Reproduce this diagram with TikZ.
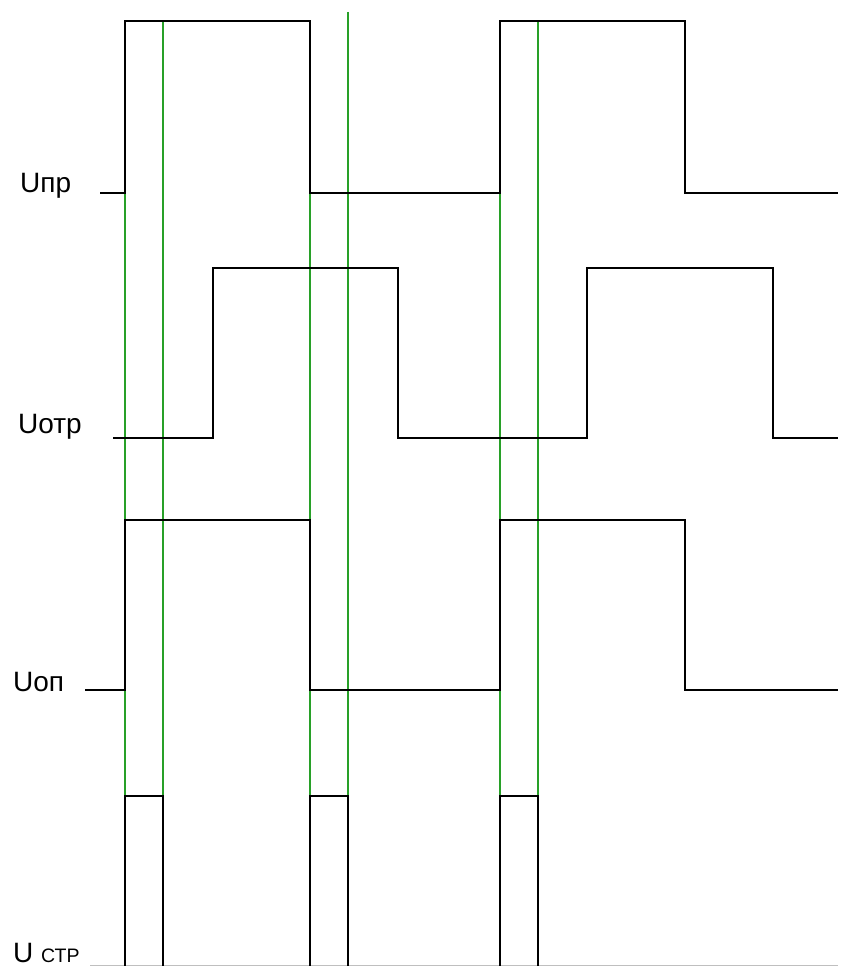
\documentclass[tikz,border=0pt]{standalone}
\usepackage{fontspec}
\setmainfont{Liberation Sans}
\definecolor{gline}{RGB}{40,160,40}
\begin{document}
\begin{tikzpicture}[x=1pt,y=-1pt,
  wave/.style={draw=black,line width=2.4pt,line join=miter},
  marker/.style={draw=gline,line width=2.2pt},
  lbl/.style={anchor=base west,inner sep=0pt,font=\fontsize{28}{28}\selectfont}]
\useasboundingbox[fill=white] (0,0) rectangle (858,966);
% green time markers
\draw[marker] (125,193) -- (125,796);
\draw[marker] (163,21) -- (163,796);
\draw[marker] (310,193) -- (310,796);
\draw[marker] (348,12) -- (348,796);
\draw[marker] (500,193) -- (500,796);
\draw[marker] (538,21) -- (538,796);
% faint bottom baseline of U стр
\draw[black!25,line width=1pt] (90,965.5) -- (838,965.5);
% Uпр
\draw[wave] (100,193) -- (125,193) -- (125,21) -- (310,21) -- (310,193) -- (500,193) -- (500,21) -- (685,21) -- (685,193) -- (838,193);
% Uотр
\draw[wave] (113,438) -- (213,438) -- (213,268) -- (398,268) -- (398,438) -- (587,438) -- (587,268) -- (773,268) -- (773,438) -- (838,438);
% Uоп
\draw[wave] (85,690) -- (125,690) -- (125,520) -- (310,520) -- (310,690) -- (500,690) -- (500,520) -- (685,520) -- (685,690) -- (838,690);
% U стр pulses
\draw[wave] (125,966) -- (125,796) -- (163,796) -- (163,966);
\draw[wave] (310,966) -- (310,796) -- (348,796) -- (348,966);
\draw[wave] (500,966) -- (500,796) -- (538,796) -- (538,966);
% labels
\node[lbl] (upr) at (20,192) {Uпр};
\node[lbl] (uotr) at (18,433) {Uотр};
\node[lbl] (uop) at (13,691) {Uоп};
\node[lbl] (ustr) at (13,962) {U {\fontsize{19.5}{20}\selectfont СТР}};
\end{tikzpicture}
\end{document}
